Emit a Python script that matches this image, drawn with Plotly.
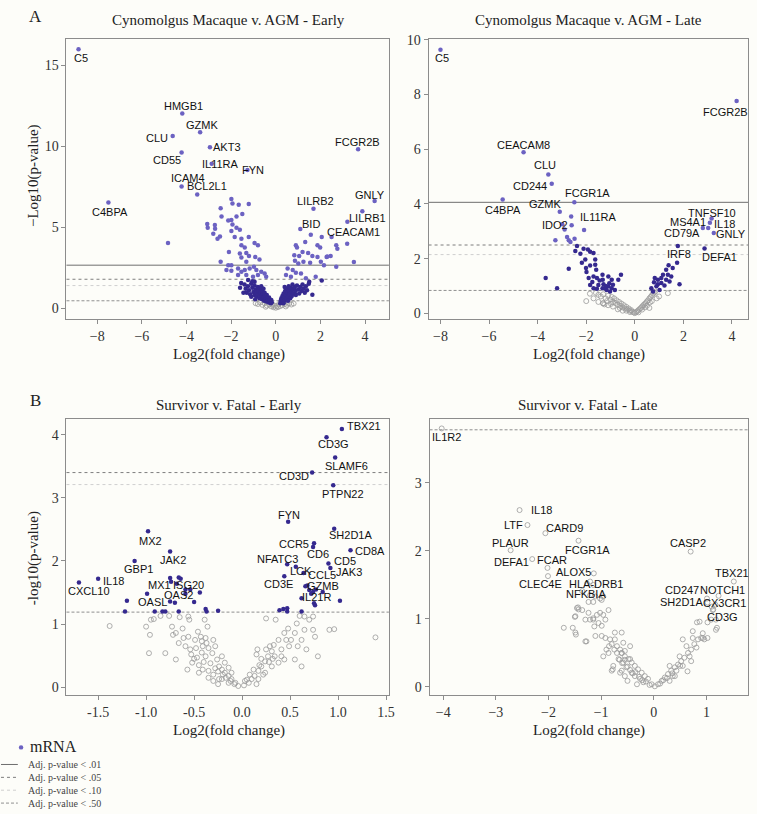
import plotly.graph_objects as go

# ---------------- DATA ----------------
# Panel A-left: Cynomolgus Macaque v. AGM - Early
al_gene = ["C5", "HMGB1", "GZMK", "CLU", "AKT3", "CD55", "IL11RA", "FYN", "ICAM4", "BCL2L1",
           "C4BPA", "FCGR2B", "GNLY", "LILRB2", "LILRB1", "BID", "CEACAM1"]
al_gene_x = [-8.84, -4.19, -3.39, -4.62, -2.95, -4.22, -2.87, -1.27, -4.22, -3.52,
             -7.5, 3.69, 4.43, 1.69, 3.88, 1.10, 3.21]
al_gene_y = [16.0, 12.02, 10.86, 10.63, 9.94, 9.61, 8.92, 8.53, 7.51, 7.02,
             6.53, 9.82, 6.61, 6.14, 5.98, 4.88, 5.33]
al_sig_x = [-4.83, -1.99, -1.94, -1.66, -1.21, -2.47, -2.43, -1.76, -1.50, -1.99, -2.13, -3.07, -2.73,
            -3.05, -2.72, -1.94, -1.99, -1.76, -1.61, -2.8, -2.5, -2.61, -1.84, -1.54, -1.21, -0.95,
            -0.8, -1.54, -1.39, -2.1, -1.61, -1.32, -1.2, -1.54, -0.92, -2.47, -1.32, -0.73, -2.13,
            -1.99, -2.21, -1.99, -1.69, -1.54, -1.39, -1.17, -0.98, -0.87, -0.65, -0.5, -1.69, -1.32,
            -1.02, -0.8, -0.43, -1.24, -0.95,
            1.57, 2.06, 0.9, 0.95, 1.32, 1.87, 1.99, 1.2, 1.45, 0.83, 1.05, 1.64, 1.87, 2.28, 2.46, 2.71,
            0.86, 1.01, 1.24, 1.54, 2.02, 2.16, 0.53, 0.76, 0.9, 1.13, 1.35, 1.5, 2.06, 1.64, 0.46, 0.68,
            2.5, 2.76, 3.2, 2.31, 2.71, 3.5, 1.79,
            -1.40, -1.35, -1.30, -1.25, -1.20, -1.15, -1.10, -1.05, -1.00, -0.95, -0.95, -0.90, -0.85,
            -0.85, -0.80, -0.78, -0.75, -0.72, -0.70, -0.68, -0.65, -0.62, -0.60, -0.58, -0.55, -0.52,
            -0.50, -0.48, -0.45, -0.42, -0.40, -0.38, -0.35, -0.32, -0.30, -0.28, -0.25, -0.22, -0.20,
            -0.18, -1.55, -1.60, -1.45, -1.10, -0.92, -1.05, -0.65, -0.55,
            0.20, 0.22, 0.25, 0.28, 0.30, 0.32, 0.35, 0.38, 0.40, 0.42, 0.45, 0.48, 0.50, 0.52, 0.55,
            0.58, 0.60, 0.62, 0.65, 0.68, 0.70, 0.72, 0.75, 0.78, 0.80, 0.85, 0.88, 0.90, 0.95, 1.00,
            1.05, 1.10, 1.15, 1.20, 1.25, 1.30, 1.35, 1.40, 1.48, 0.35, 0.55, 0.40]
al_sig_y = [4.02, 6.74, 6.47, 6.39, 6.43, 6.17, 5.66, 5.66, 5.82, 5.45, 5.41, 5.2, 5.14,
            4.96, 4.9, 5.16, 4.76, 4.96, 4.84, 4.59, 4.43, 4.29, 4.39, 4.29, 4.39, 4.02,
            3.88, 3.88, 3.74, 3.47, 3.37, 3.41, 3.21, 3.12, 3.16, 2.86, 2.86, 3.0, 2.65,
            2.65, 2.35, 2.31, 2.45, 2.25, 2.35, 2.45, 2.55, 2.35, 2.25, 2.14, 2.04, 2.04,
            1.94, 2.04, 1.94, 1.74, 1.63,
            4.53, 4.39, 3.88, 3.74, 4.08, 3.88, 3.74, 3.47, 3.41, 3.27, 3.21, 3.21, 3.16, 3.16, 3.21, 3.88,
            2.92, 2.76, 2.86, 2.8, 2.86, 2.65, 2.45, 2.35, 2.18, 2.14, 1.84, 1.63, 1.7, 0.82, 2.04, 1.94,
            4.39, 3.67, 3.98, 3.18, 2.55, 2.84, 1.94,
            1.45, 1.20, 0.95, 1.35, 1.10, 0.85, 1.50, 1.25, 1.00, 0.80, 1.40, 1.15, 0.95,
            0.70, 1.30, 1.05, 0.85, 0.60, 1.20, 0.95, 0.75, 0.55, 1.05, 0.85, 0.65, 0.45,
            0.95, 0.75, 0.55, 0.40, 0.80, 0.62, 0.45, 0.35, 0.65, 0.50, 0.38, 0.30, 0.50,
            0.36, 1.55, 1.25, 0.95, 0.70, 0.55, 1.65, 1.35, 1.20,
            0.30, 0.45, 0.60, 0.38, 0.75, 0.52, 0.90, 0.65, 0.45, 1.05, 0.80, 0.58, 1.20, 0.95, 0.70,
            1.35, 1.10, 0.85, 0.60, 1.25, 1.00, 0.75, 1.45, 1.15, 0.90, 1.30, 1.05, 0.80, 1.40, 1.15,
            0.90, 1.30, 1.05, 1.45, 1.20, 0.95, 1.35, 1.10, 1.50, 0.30, 0.45, 1.30]
al_ns_x = [-0.8, -0.6, -0.5, -0.4, -0.3, -0.2, -0.1, 0.0, 0.1, 0.2, 0.3, 0.4, 0.5, 0.6, 0.7,
           -0.7, -0.15, 0.15, 0.05, -0.05, 0.8, -0.9, -0.45, 0.45]
al_ns_y = [0.25, 0.2, 0.3, 0.15, 0.22, 0.1, 0.05, 0.02, 0.06, 0.12, 0.18, 0.25, 0.2, 0.3, 0.22,
           0.35, 0.2, 0.25, 0.12, 0.15, 0.28, 0.3, 0.08, 0.1]
al_thr = {"p01": 2.65, "p05": 1.78, "p10": 1.39, "p50": 0.45}

# Panel A-right: Cynomolgus Macaque v. AGM - Late
ar_gene = ["C5", "FCGR2B", "CEACAM8", "CLU", "CD244", "C4BPA", "FCGR1A", "GZMK", "IL11RA", "IDO2",
           "TNFSF10", "IL18", "MS4A1", "GNLY", "CD79A", "IRF8", "DEFA1"]
ar_gene_x = [-8.0, 4.19, -4.58, -3.56, -3.42, -5.44, -2.49, -3.09, -2.09, -2.6,
             3.16, 3.09, 2.8, 3.25, 3.02, 1.77, 2.87]
ar_gene_y = [9.64, 7.76, 5.89, 5.08, 4.74, 4.16, 4.06, 3.72, 3.05, 3.22,
             3.47, 3.31, 3.12, 2.94, 3.12, 2.46, 2.37]
ar_sig_x = [-2.62, -2.99, -2.89, -3.27, -2.79, -2.72, -2.65, -2.48, -2.38, -2.45, -2.11, -1.93, -1.84,
            -1.7, -2.24, -2.04, -2.18, -1.63, -2.01, -1.84, -1.63, -1.99, -1.59, -2.72, -1.9, -1.7,
            -1.56, -1.33, -1.32, -1.09, -0.95, -0.57, -1.84, -1.7, -1.5, -1.29, -1.22, -1.09, -0.95,
            -0.82, -1.02, -1.16, -1.33, -1.56, -3.67, -3.2, -0.68, -1.45, -1.75, -1.05, -1.2, -0.9,
            1.39, 1.56, 1.74, 1.29, 1.16, 1.36, 1.5, 1.09, 1.29, 1.43, 0.95, 0.82, 0.79, 0.95, 1.09,
            1.22, 0.89, 0.68, 1.02, 1.84, 0.75]
ar_sig_y = [3.54, 3.26, 3.07, 2.67, 2.79, 2.67, 2.61, 2.73, 2.46, 2.28, 2.36, 2.34, 2.25,
            2.21, 2.18, 1.97, 1.85, 1.97, 1.66, 1.75, 1.78, 1.51, 1.6, 1.63, 1.29, 1.35,
            1.29, 1.41, 1.23, 1.35, 1.23, 1.41, 1.04, 0.92, 1.04, 1.07, 0.92, 0.99, 0.92,
            0.86, 0.80, 0.86, 0.92, 0.90, 1.29, 0.92, 1.23, 1.2, 1.15, 1.1, 1.0, 1.05,
            1.76, 1.66, 1.85, 1.6, 1.41, 1.41, 1.35, 1.29, 1.23, 1.17, 1.23, 1.29, 1.14, 1.07, 1.11,
            1.02, 0.99, 0.92, 0.86, 1.07, 0.8]
ar_ns_x = [-1.85, -1.6, -1.5, -1.4, -1.3, -1.2, -1.1, -1.0, -0.95, -0.9, -0.85, -0.8, -0.75, -0.7,
           -0.65, -0.6, -0.55, -0.5, -0.45, -0.4, -0.35, -0.3, -0.25, -0.2, -0.15, -0.1, -0.05, 0.0,
           0.05, 0.1, 0.15, 0.2, 0.25, 0.3, 0.35, 0.4, 0.45, 0.5, 0.55, 0.6, 0.65, 0.7, 0.75, 0.8,
           0.85, 0.3, 0.5, 0.7, -1.3, -1.25, -1.5, -0.9, -1.1, -0.7, -0.5, 0.9, 1.0, 0.6, -1.7, -2.0,
           -1.31, 1.36, -1.15, -0.98, -0.62, -0.35, -0.2, 0.15, 0.42, 0.62]
ar_ns_y = [0.72, 0.75, 0.68, 0.62, 0.70, 0.55, 0.65, 0.50, 0.60, 0.42, 0.55, 0.38, 0.48, 0.32,
           0.42, 0.28, 0.36, 0.22, 0.30, 0.18, 0.24, 0.14, 0.18, 0.10, 0.12, 0.06, 0.04, 0.01,
           0.05, 0.08, 0.12, 0.16, 0.20, 0.25, 0.30, 0.34, 0.38, 0.44, 0.48, 0.55, 0.60, 0.66, 0.72, 0.76,
           0.80, 0.14, 0.28, 0.45, 0.37, 0.33, 0.42, 0.25, 0.30, 0.15, 0.10, 0.55, 0.62, 0.20, 0.55, 0.45,
           0.37, 0.74, 0.45, 0.35, 0.2, 0.1, 0.05, 0.04, 0.22, 0.4]
ar_thr = {"p01": 4.06, "p05": 2.50, "p10": 2.15, "p50": 0.84}

# Panel B-left: Survivor v. Fatal - Early
bl_gene = ["TBX21", "CD3G", "SLAMF6", "CD3D", "PTPN22", "FYN", "SH2D1A", "CCR5", "CD6", "CD8A",
           "CD5", "NFATC3", "JAK3", "LCK", "CCL5", "CD3E", "GZMB", "IL21R",
           "CXCL10", "IL18", "GBP1", "MX2", "JAK2", "MX1", "ISG20", "OAS2", "OASL"]
bl_gene_x = [1.04, 0.88, 0.97, 0.73, 0.95, 0.48, 0.96, 0.75, 0.74, 1.13,
             0.90, 0.47, 0.92, 0.56, 0.64, 0.44, 0.66, 0.77,
             -1.70, -1.50, -1.12, -0.98, -0.75, -0.75, -0.66, -0.59, -0.99]
bl_gene_y = [4.09, 3.96, 3.64, 3.40, 3.20, 2.62, 2.51, 2.28, 2.22, 2.17,
             1.96, 1.95, 1.89, 1.91, 1.81, 1.76, 1.60, 1.55,
             1.66, 1.72, 2.00, 2.47, 2.15, 1.73, 1.74, 1.55, 1.48]
bl_sig_x = [-1.20, -1.22, -0.91, -0.83, -0.80, -0.66, -0.74, -0.64, -0.68, -0.59, -0.75, -0.70,
            -0.50, -0.44, -0.38, -0.37, -0.25, -0.54,
            0.39, 0.43, 0.47, 0.47, 0.62, 0.68, 0.70, 0.72, 0.74, 0.62, 0.75, 0.76, 0.84, 1.02]
bl_sig_y = [1.37, 1.20, 1.20, 1.20, 1.20, 1.20, 1.67, 1.72, 1.64, 1.48, 1.36, 1.34,
            1.35, 1.50, 1.24, 1.20, 1.21, 1.55,
            1.22, 1.24, 1.25, 1.20, 1.20, 1.61, 1.54, 1.48, 1.51, 1.41, 1.33, 1.30, 1.51, 1.37]
bl_ns_x = [-1.38, -1.0, -0.96, -0.95, -0.92, -0.85, -0.76, -0.73, -0.72, -0.69, -0.65, -0.62, -0.61,
           -0.66, -0.59, -0.56, -0.55, -0.54, -0.53, -0.49, -0.46, -0.43, -0.42, -0.41, -0.38, -0.37,
           -0.35, -0.39, -0.45, -0.52, -0.47, -0.38, -0.31, -0.30, -0.28, -0.26, -0.24, -0.21, -0.18,
           -0.14, -0.11, -0.07, -0.04, -0.21, -0.18, -0.14, -0.11, -0.24, -0.30, -0.35, -0.41, -0.57,
           -0.80, -0.97, -0.69, -0.21, -0.14, -0.56, -0.36,
           0.07, 0.10, 0.13, 0.17, 0.20, 0.24, 0.27, 0.15, 0.16, 0.25, 0.29, 0.33, 0.35, 0.31, 0.38,
           0.41, 0.44, 0.46, 0.48, 0.49, 0.51, 0.55, 0.57, 0.58, 0.62, 0.65, 0.67, 0.70, 0.74, 0.76,
           0.79, 0.62, 0.55, 0.44, 0.38, 0.41, 0.91, 0.96, 1.39, 0.65, 0.60, 0.74, 0.24, 0.31, 0.03,
           0.17, 0.34, 0.25,
           -0.45, -0.40, -0.33, -0.28, -0.25, -0.20, -0.17, -0.12, -0.08, -0.35, -0.30, -0.25, 0.02,
           0.05, 0.08, 0.12, 0.18, 0.22, 0.28, 0.15, -0.50, -0.42, -0.48, 0.32, 0.20]
bl_ns_y = [0.97, 0.96, 0.83, 1.07, 1.08, 1.13, 1.13, 0.96, 0.83, 0.86, 1.11, 0.93, 0.78,
           0.70, 0.65, 0.80, 1.07, 0.60, 0.52, 0.75, 0.88, 0.80, 0.73, 0.65, 0.78, 0.70,
           0.62, 1.07, 0.23, 0.39, 0.47, 0.49, 0.54, 0.75, 0.65, 0.44, 0.33, 0.28, 0.23,
           0.18, 0.13, 0.07, 0.02, 0.49, 0.39, 0.31, 0.23, 0.13, 0.20, 0.26, 0.28, 0.28,
           0.54, 0.54, 0.44, 0.13, 0.07, 1.12, 0.96,
           0.07, 0.13, 0.18, 0.26, 0.33, 0.41, 0.49, 0.52, 0.60, 0.60, 0.65, 0.67, 1.07, 0.57, 0.75,
           0.60, 0.86, 0.75, 0.93, 0.65, 0.75, 0.86, 1.01, 0.65, 0.75, 0.91, 0.60, 1.07, 0.91, 0.80,
           0.49, 0.33, 0.44, 0.44, 0.39, 0.49, 0.91, 0.92, 0.79, 1.12, 1.13, 1.12, 0.23, 0.33, 0.10,
           0.13, 0.49, 1.09,
           0.35, 0.40, 0.38, 0.30, 0.25, 0.20, 0.15, 0.10, 0.05, 0.15, 0.10, 0.05, 0.03,
           0.12, 0.20, 0.28, 0.35, 0.20, 0.40, 0.05, 0.45, 0.55, 0.62, 0.45, 0.45]
bl_thr = {"p05": 3.40, "p10": 3.21, "p50": 1.19}

# Panel B-right: Survivor v. Fatal - Late
br_gene = ["IL1R2", "IL18", "LTF", "CARD9", "PLAUR", "DEFA1", "FCAR", "FCGR1A", "ALOX5", "CLEC4E",
           "HLA-DRB1", "NFKBIA", "CASP2", "TBX21", "NOTCH1", "CD247", "SH2D1A", "CX3CR1", "CD3G"]
br_gene_x = [-4.03, -2.55, -2.40, -2.06, -2.72, -2.31, -2.02, -1.43, -1.14, -2.01,
             -1.21, -1.02, 0.70, 1.52, 1.23, 1.01, 1.02, 1.13, 1.02]
br_gene_y = [3.80, 2.60, 2.38, 2.26, 2.01, 1.88, 1.75, 2.15, 1.67, 1.63,
             1.55, 1.30, 1.99, 1.55, 1.34, 1.30, 1.24, 1.14, 0.95]
br_ns_x = [-1.27, -1.15, -1.36, -1.21, -1.11, -1.24, -1.15, -0.96, -0.99, -1.46, -1.43, -1.36, -1.49,
           -1.30, -1.21, -1.15, -1.08, -1.02, -0.96, -0.92, -1.05, -1.13, -0.99, -1.71, -1.49, -1.30,
           -0.99, -0.92, -0.83, -0.74, -0.80, -0.70, -0.64, -0.61, -0.55, -0.48, -0.42, -0.36, -0.30,
           -0.23, -0.17, -0.11, -0.04, -0.67, -0.58, -0.77, -0.52, -0.42, -0.36, -0.26, -0.20, -0.61,
           -0.80, -0.55, -0.45, -0.55, -0.86, -0.96, -0.61, -1.54, -1.48, -1.28, -1.50, -1.44, -0.78,
           -0.64, -0.50, -0.32, -1.11, -1.24, -1.15, -0.86, -0.74, -0.58, -0.61, -0.45,
           0.08, 0.15, 0.21, 0.27, 0.33, 0.40, 0.36, 0.46, 0.52, 0.43, 0.58, 0.55, 0.65, 0.71, 0.68,
           0.77, 0.84, 0.81, 0.90, 0.96, 1.02, 0.74, 0.62, 0.49, 0.30, 0.87, 1.09, 1.20, 1.18, 1.10,
           1.17, 1.12, 0.71, 0.40, 0.30, 0.64, 0.50, 0.55, 0.74, 0.82, 0.93, 1.18, 0.93,
           -0.70, -0.65, -0.60, -0.50, -0.45, -0.40, -0.35, -0.28, -0.22, -0.15, -0.08, 0.02, -0.75,
           -0.85, -0.90, -0.55, 0.12, 0.18, 0.25, 0.35]
br_ns_y = [1.52, 1.50, 1.41, 1.35, 1.33, 1.25, 1.25, 1.33, 1.28, 1.16, 1.14, 1.13, 1.04,
           0.99, 0.99, 1.01, 1.06, 1.09, 1.06, 0.99, 0.94, 0.89, 0.90, 0.87, 0.80, 0.67,
           0.75, 0.72, 0.70, 0.70, 0.63, 0.60, 0.55, 0.50, 0.45, 0.41, 0.36, 0.31, 0.26,
           0.21, 0.16, 0.12, 0.04, 0.41, 0.36, 0.31, 0.29, 0.21, 0.16, 0.12, 0.07, 0.24,
           0.24, 0.16, 0.60, 0.53, 0.50, 0.45, 0.80, 0.87, 0.77, 0.67, 1.03, 1.17, 0.26,
           0.21, 0.09, 0.04, 0.75, 1.09, 0.99, 1.13, 0.80, 0.65, 0.50, 0.41,
           0.04, 0.09, 0.14, 0.19, 0.24, 0.29, 0.16, 0.33, 0.38, 0.24, 0.43, 0.31, 0.50, 0.55, 0.45,
           0.63, 0.70, 0.58, 0.72, 0.70, 0.72, 0.72, 0.60, 0.45, 0.31, 0.96, 0.99, 0.87, 0.99, 1.18,
           1.21, 1.13, 0.38, 0.16, 0.09, 0.23, 0.31, 0.70, 0.82, 0.95, 0.79, 0.84, 0.72,
           0.50, 0.40, 0.35, 0.30, 0.25, 0.20, 0.22, 0.15, 0.10, 0.08, 0.03, 0.01, 0.55,
           0.60, 0.55, 0.40, 0.05, 0.10, 0.13, 0.20]
br_thr = {"p50": 3.78}

# ---------------- STYLE / LAYOUT ----------------
W, H = 757, 814
SERIF = "Liberation Serif"
SANS = "Liberation Sans"
BG = "#fdfdf9"
LIGHT = "#6c62c2"
DARK = "#35298f"
GREY = "#9a9a9a"


def X(px):
    return px / W


def Y(py):
    return 1 - py / H


line_styles = {
    "p01": dict(color="#6e6e6e", width=1, dash="solid"),
    "p05": dict(color="#7d7d7d", width=1, dash="dot"),
    "p10": dict(color="#cfcfcf", width=1, dash="dot"),
    "p50": dict(color="#8f8f8f", width=1, dash="3px,2px"),
}

# label offsets (pixels, label centre relative to the point; +dy = downward)
label_off = {
    "al": [(2.7, 9.3), (1.3, -8), (2.3, -7.7), (-15.3, 2), (16.7, 0), (-14.7, 7.7), (8.3, 0), (5.3, 0),
           (6, -8.7), (9.7, -8), (1.7, 9.3), (-1, -7.3), (-4.3, -5.7), (2.3, -7.3), (4.7, 7), (10.7, -5),
           (6.3, 10)],
    "ar": [(1.7, 8.7), (-11, 10.7), (0, -7), (-3.7, -9.7), (-22, 2), (0.7, 10), (13.3, -9.3), (-14.3, -7.7),
           (14.3, -13.3), (-16.3, 0), (0, -5.3), (15, 1.3), (-15.3, -6), (17, 0.7), (-25.7, 5.3), (0.7, 7.7),
           (15.3, 8.3)],
    "bl": [(21.7, -3), (6.7, 6.7), (11.7, 8.7), (-18.3, 3.7), (9.7, 8.7), (0.7, -7.3), (16, 6.7),
           (-20.3, 0.3), (5.3, 7.3), (19, 0.3), (16.7, -2.7), (-9.3, -4.7), (18.3, 3.7), (5, 4),
           (18.7, 1.7), (-5.7, 8), (17.7, 0), (0.7, 7.7), (10, 8.3), (15.7, 2.7), (4, 8), (2.3, 9.3),
           (3, 8.3), (-11, 6.7), (9.3, 7.3), (-6.7, 6), (5, 8)],
    "br": [(4.7, 9), (22.3, 0), (-14.3, 0), (19.3, -5.3), (-0.3, -7.3), (-20.7, 2.7), (4.3, -7.7),
           (8.7, 9.3), (-20, -1.7), (-7, 8.3), (5.7, 2.7), (-14, -5), (-3, -8.3), (-2, -8.3), (4, -6),
           (-25, -9), (-26, -1), (11.7, -6.7), (15, -5.3)],
}

fig = go.Figure()


def filled_colors(ys, thr):
    if thr is None:
        return [DARK] * len(ys)
    return [LIGHT if v > thr else DARK for v in ys]


label_anns = []


def add_panel(k, ns_x, ns_y, sig_x, sig_y, gx, gy, gnames, offs, color_thr, labels_open):
    xa = "x" if k == 1 else f"x{k}"
    ya = "y" if k == 1 else f"y{k}"
    fig.add_trace(go.Scatter(x=ns_x, y=ns_y, mode="markers", xaxis=xa, yaxis=ya,
                             marker=dict(symbol="circle-open", size=5, color=GREY, line=dict(width=0.8)),
                             showlegend=False, hoverinfo="skip"))
    if sig_x:
        fig.add_trace(go.Scatter(x=sig_x, y=sig_y, mode="markers", xaxis=xa, yaxis=ya,
                                 marker=dict(size=4.5, color=filled_colors(sig_y, color_thr)),
                                 showlegend=False, hoverinfo="skip"))
    if labels_open:
        mk = dict(symbol="circle-open", size=5, color=GREY, line=dict(width=0.8))
    else:
        mk = dict(size=4.5, color=filled_colors(gy, color_thr))
    fig.add_trace(go.Scatter(x=gx, y=gy, mode="markers", xaxis=xa, yaxis=ya, marker=mk,
                             showlegend=False, hoverinfo="skip"))
    for name, xv, yv, (dx, dy) in zip(gnames, gx, gy, offs):
        label_anns.append(dict(text=name, x=xv, y=yv, xref=xa, yref=ya, showarrow=False,
                               xanchor="center", yanchor="middle", xshift=dx, yshift=-dy,
                               font=dict(family=SANS, size=11, color="#111111")))


add_panel(1, al_ns_x, al_ns_y, al_sig_x, al_sig_y, al_gene_x, al_gene_y, al_gene, label_off["al"],
          al_thr["p05"], False)
add_panel(2, ar_ns_x, ar_ns_y, ar_sig_x, ar_sig_y, ar_gene_x, ar_gene_y, ar_gene, label_off["ar"],
          ar_thr["p05"], False)
add_panel(3, bl_ns_x, bl_ns_y, bl_sig_x, bl_sig_y, bl_gene_x, bl_gene_y, bl_gene, label_off["bl"],
          None, False)
add_panel(4, br_ns_x, br_ns_y, [], [], br_gene_x, br_gene_y, br_gene, label_off["br"], None, True)

shapes = []
for k, thr in [(1, al_thr), (2, ar_thr), (3, bl_thr), (4, br_thr)]:
    xr = "x domain" if k == 1 else f"x{k} domain"
    yr = "y" if k == 1 else f"y{k}"
    for key, v in thr.items():
        shapes.append(dict(type="line", xref=xr, yref=yr, x0=0, x1=1, y0=v, y1=v,
                           line=line_styles[key], layer="below"))

axis_common = dict(showline=True, mirror=True, linecolor="#8c8c8c", linewidth=1, ticks="outside",
                   ticklen=4, tickcolor="#8c8c8c", showgrid=False, zeroline=False,
                   tickfont=dict(family=SERIF, size=14, color="#333333"))

bl_xticks = [-1.5, -1.0, -0.5, 0.0, 0.5, 1.0, 1.5]

layout_axes = dict(
    xaxis=dict(domain=[X(67), X(392)], range=[-9.38, 5.07], tickvals=[-8, -6, -4, -2, 0, 2, 4],
               anchor="y", **axis_common),
    yaxis=dict(domain=[Y(316), Y(33)], range=[-0.67, 16.65], tickvals=[0, 5, 10, 15], anchor="x",
               **axis_common),
    xaxis2=dict(domain=[X(432), X(754)], range=[-8.49, 4.66], tickvals=[-8, -6, -4, -2, 0, 2, 4],
                anchor="y2", **axis_common),
    yaxis2=dict(domain=[Y(316), Y(33)], range=[-0.2, 10.04], tickvals=[0, 2, 4, 6, 8, 10], anchor="x2",
                **axis_common),
    xaxis3=dict(domain=[X(67), X(392)], range=[-1.83, 1.53], tickvals=bl_xticks,
                ticktext=[f"{v:.1f}" for v in bl_xticks], anchor="y3", **axis_common),
    yaxis3=dict(domain=[Y(696), Y(417)], range=[-0.125, 4.25], tickvals=[0, 1, 2, 3, 4], anchor="x3",
                **axis_common),
    xaxis4=dict(domain=[X(433), X(754)], range=[-4.26, 1.79], tickvals=[-4, -3, -2, -1, 0, 1],
                anchor="y4", **axis_common),
    yaxis4=dict(domain=[Y(696), Y(417)], range=[-0.12, 3.94], tickvals=[0, 1, 2, 3], anchor="x4",
                **axis_common),
)


def ann(text, px, py, size=15, family=SERIF, xanchor="center", yanchor="middle", angle=0, color="#222222"):
    return dict(text=text, x=X(px), y=Y(py), xref="paper", yref="paper", showarrow=False,
                xanchor=xanchor, yanchor=yanchor, textangle=angle,
                font=dict(family=family, size=size, color=color))


annotations = [
    ann("A", 36, 11, size=17),
    ann("B", 36, 398, size=17),
    ann("Cynomolgus Macaque v. AGM - Early", 230, 14, size=15),
    ann("Cynomolgus Macaque v. AGM - Late", 593, 14, size=15),
    ann("Survivor v. Fatal - Early", 231, 403, size=15),
    ann("Survivor v. Fatal - Late", 593, 403, size=15),
    ann("\u2212Log10(p-value)", 34, 171, size=15, angle=-90),
    ann("-log10(p-value)", 34, 558, size=15, angle=-90),
    ann("Log2(fold change)", 231, 352, size=15),
    ann("Log2(fold change)", 594, 352, size=15),
    ann("Log2(fold change)", 231, 732, size=15),
    ann("Log2(fold change)", 594, 732, size=15),
    ann("mRNA", 28, 748, size=16, xanchor="left"),
]

legend_rows = [("p01", "Adj. p-value < .01", 766), ("p05", "Adj. p-value < .05", 779),
               ("p10", "Adj. p-value < .10", 792), ("p50", "Adj. p-value < .50", 805)]
for key, txt, py in legend_rows:
    shapes.append(dict(type="line", xref="paper", yref="paper", x0=X(1), x1=X(18), y0=Y(py), y1=Y(py),
                       line=line_styles[key]))
    annotations.append(ann(txt, 26, py, size=10, xanchor="left", color="#444444"))
shapes.append(dict(type="circle", xref="paper", yref="paper", x0=X(19), x1=X(23.5), y0=Y(751), y1=Y(746.5),
                   fillcolor=LIGHT, line=dict(width=0)))

fig.update_layout(width=W, height=H, margin=dict(l=0, r=0, t=0, b=0), paper_bgcolor=BG,
                  plot_bgcolor=BG, shapes=shapes, annotations=annotations + label_anns, showlegend=False,
                  **layout_axes)

fig.write_html("out.html", config={"displayModeBar": False},
               post_script="document.body.style.margin='0px';document.body.style.overflow='hidden';")
